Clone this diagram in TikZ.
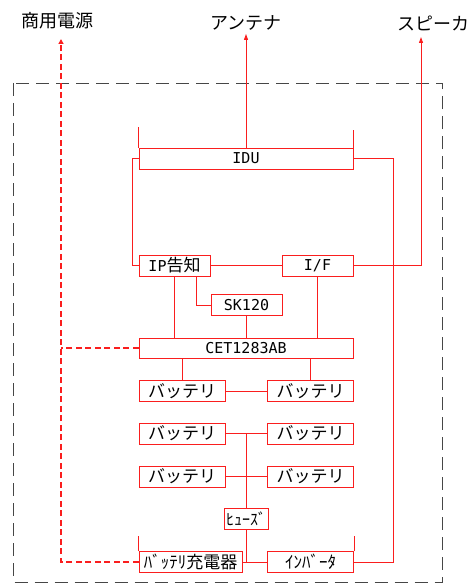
\documentclass[tikz,border=0pt]{standalone}
\usepackage{fontspec}
\setmainfont{Noto Sans CJK JP}
\newfontfamily\latfont{DejaVu Sans Mono}
\usepackage{tikz}
\usetikzlibrary{arrows.meta,positioning}
\definecolor{WireRed}{RGB}{250,30,30}
\definecolor{FrameGray}{RGB}{70,70,70}
\begin{document}
\begin{tikzpicture}[x=1pt,y=-1pt,
        box/.style={draw=WireRed,line width=0.9pt,fill=white,inner sep=0pt,
                    minimum height=21pt,font=\fontsize{17}{17}\selectfont},
        lbox/.style={box,font=\fontsize{15}{15}\latfont},
        wbox/.style={lbox,minimum width=214pt},
        sbox/.style={lbox,minimum width=71pt},
        bbox/.style={box,minimum width=86pt},
        wire/.style={WireRed,line width=0.9pt},
        arr/.style={wire,-{Triangle[length=6pt,width=4pt]}},
        pwr/.style={WireRed,line width=2.2pt,dash pattern=on 6pt off 3.5pt,
                    -{Triangle[length=5pt,width=5pt]}},
        frame/.style={FrameGray,line width=0.8pt,dash pattern=on 13pt off 7pt},
        lbl/.style={font=\fontsize{18}{18}\selectfont}
      ]
        \useasboundingbox (0,0) rectangle (472,588);
        \draw[frame] (13.5,83) rectangle (442,582);
        \node[lbl] (AC) at (57,21) {商用電源};
        \node[lbl] (ANT) at (246,23) {アンテナ};
        \node[lbl] (SPK) at (433,23) {スピーカ};
        \coordinate (acend) at (61,39);
        \coordinate (spkend) at (421,37);
        \node[wbox] (IDU) at (246,158.5) {IDU};
        \node[sbox,font=\fontsize{17}{17}\selectfont] (IP) at (174.5,265.5)
          {{\fontsize{15}{15}\latfont IP}告知};
        \node[sbox] (IF) at (317.5,265.5) {I/F};
        \node[sbox] (SK) at (246.5,305) {SK120};
        \node[wbox,minimum height=20pt] (CET) at (246,348) {CET1283AB};
        \node[bbox] (B1) at (182,391) {バッテリ};
        \node[bbox] (B2) at (310.5,391) {バッテリ};
        \node[bbox] (B3) at (182,433.5) {バッテリ};
        \node[bbox] (B4) at (310.5,433.5) {バッテリ};
        \node[bbox] (B5) at (182,476.5) {バッテリ};
        \node[bbox] (B6) at (310.5,476.5) {バッテリ};
        \node[box,minimum width=44pt,font=\fontsize{16}{16}\selectfont] (FUSE) at (246,519) {ﾋｭｰｽﾞ};
        \node[box,minimum width=103pt] (CHG) at (190.5,562) {ﾊﾞｯﾃﾘ充電器};
        \node[bbox] (INV) at (310.5,562) {ｲﾝﾊﾞｰﾀ};
        \draw[wire] (IDU.north west) -- ++(0,-21);
        \draw[wire] (IDU.north east) -- ++(0,-18);
        \draw[wire] (CHG.north west) -- ++(0,-15);
        \draw[wire] (INV.north east) -- ++(0,-15);
        \draw[arr] (IDU.north) -- (ANT.south);
        \draw[wire] (IDU.west) -- ++(-6,0) |- (IP.west);
        \draw[wire] (IDU.east) -- ++(40,0) |- (INV.east);
        \draw[wire] (IP.east) -- (IF.west);
        \draw[arr] (IF.east) -| (spkend);
        \draw[wire] ([xshift=21.5pt]IP.south) |- (SK.west);
        \draw[wire] (IP.south) -- (IP.south |- CET.north);
        \draw[wire] (SK.south) -- (SK.south |- CET.north);
        \draw[wire] (IF.south) -- (IF.south |- CET.north);
        \draw[wire] (B1.north |- CET.south) -- (B1.north);
        \draw[wire] (B2.north |- CET.south) -- (B2.north);
        \draw[wire] (B1) -- (B2);
        \draw[wire] (B3) -- (B4);
        \draw[wire] (B5) -- (B6);
        \draw[wire] (FUSE.north |- B3.east) -- (FUSE.north);
        \draw[wire] (FUSE.south) -- (FUSE.south |- INV.west);
        \draw[wire] (CHG.east) -- (INV.west);
        \draw[pwr] (CHG.west) -| (acend);
        \draw[pwr,-] (CET.west) -- (CET.west -| acend);
      \end{tikzpicture}
\end{document}
